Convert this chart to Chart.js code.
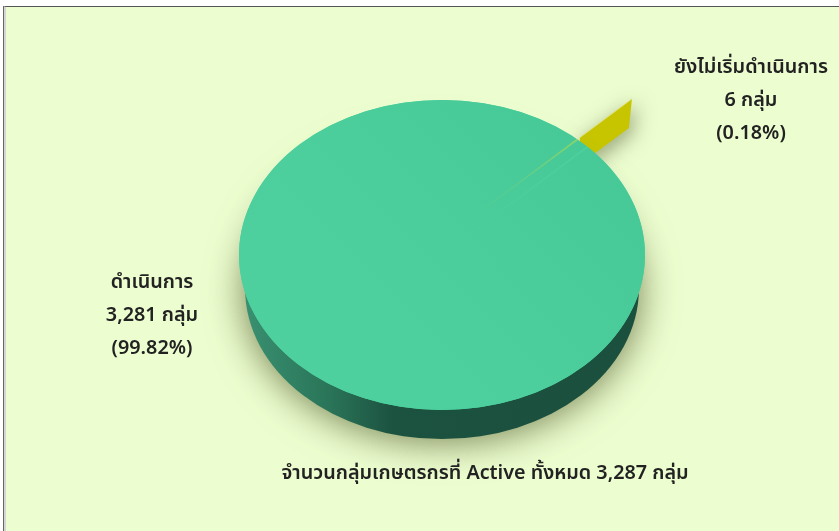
<!DOCTYPE html>
<html lang="th">
<head>
    <meta charset="UTF-8">
    <title>จำนวนกลุ่มเกษตรกร</title>
    <script src="https://cdn.jsdelivr.net/npm/chart.js"></script>
    <style>
        html, body { margin: 0; padding: 0; background: #fff; overflow: hidden; }
        #frame { position: absolute; left: 3px; top: 6px; width: 836px; height: 525px; box-sizing: border-box;
                 background: #ecfdcf; border-top: 1px solid #555; border-left: 3px solid #d5d5d5; }
        #edge { position: absolute; left: 3px; top: 6px; width: 1px; height: 525px; background: #666; }
        canvas { position: absolute; left: 0; top: 0; }
    </style>
</head>
<body>
    <div id="frame"></div>
    <div id="edge"></div>
    <canvas id="pie3d" width="839" height="531"></canvas>

    <script>
        const sliceNames = ['ดำเนินการ', 'ยังไม่เริ่มดำเนินการ'];
        const sliceValues = [3281, 6];
        const slicePercents = ['99.82', '0.18'];
        const totalCaption = 'จำนวนกลุ่มเกษตรกรที่ Active ทั้งหมด 3,287 กลุ่ม';

        // look of the fake 3D
        const squash = 0.764;
        const depth = 29;
        const bottomScale = 0.97;
        const apexShift = -15;
        const pullOut = 1.305;
        const rimAt = 0.948;
        const smallSliceAngle = 45.8;
        const labelSpots = [{ x: 152, y: 284 }, { x: 751, y: 69 }];
        const lineGap = 33;
        const font = '600 19.8px "Noto Sans Thai", "Noto Sans", "Liberation Sans", sans-serif';

        const ctx = document.getElementById('pie3d').getContext('2d');

        function sliceColor(c) {
            const area = c.chart.chartArea;
            if (!area) return '#4ace9b';
            const cx = (area.left + area.right) / 2;
            const cy = (area.top + area.bottom) / 2;
            if (c.dataIndex === 0) {
                const g = ctx.createLinearGradient(cx - 203, cy + 203, cx + 203, cy - 100);
                g.addColorStop(0, '#4ed19f');
                g.addColorStop(0.5, '#4ccf9d');
                g.addColorStop(1, '#46c997');
                return g;
            }
            const g = ctx.createRadialGradient(cx, cy, 10, cx, cy, 195);
            g.addColorStop(0, 'rgba(90,205,140,0.05)');
            g.addColorStop(1, 'rgba(190,220,70,0.6)');
            return g;
        }

        const pie3d = {
            id: 'pie3d',
            beforeDatasetDraw(chart) {
                const c = chart.ctx;
                const [green, yellow] = chart.getDatasetMeta(0).data;
                const x = green.x, y = green.y, R = green.outerRadius;
                const mid = (yellow.startAngle + yellow.endAngle) / 2;
                const dirX = Math.cos(mid), dirY = Math.sin(mid) * squash;
                const ax = x, ay = y + apexShift;
                const p0 = [ax + dirX * R * rimAt, ay + dirY * R * rimAt];
                const p1 = [ax + dirX * R * pullOut, ay + dirY * R * pullOut];

                // yellow slice wall, sticks out behind the top
                c.save();
                c.shadowColor = 'rgba(60,70,30,0.5)';
                c.shadowBlur = 20;
                c.shadowOffsetX = 3;
                c.shadowOffsetY = 5;
                c.fillStyle = '#c6c500';
                c.beginPath();
                c.moveTo(p0[0], p0[1]);
                c.lineTo(p1[0], p1[1]);
                c.lineTo(p1[0] - 3, p1[1] + depth);
                c.lineTo(p0[0] - 3, p0[1] + depth);
                c.closePath();
                c.fill();
                c.restore();
                c.strokeStyle = '#dfe07a';
                c.beginPath();
                c.moveTo(p0[0], p0[1]);
                c.lineTo(p1[0], p1[1]);
                c.stroke();

                // side wall of the green slice
                const Rb = R * bottomScale;
                const ryb = Rb * squash;
                const yb = y + R * squash + depth - ryb;
                const wall = c.createLinearGradient(x - R, 0, x + R, 0);
                wall.addColorStop(0, '#3a9272');
                wall.addColorStop(0.22, '#2a7559');
                wall.addColorStop(0.38, '#1c5240');
                wall.addColorStop(1, '#1b4f3e');
                c.save();
                c.shadowColor = 'rgba(70,80,30,0.75)';
                c.shadowBlur = 38;
                c.shadowOffsetY = 2;
                c.fillStyle = wall;
                c.beginPath();
                c.ellipse(x, yb, Rb, ryb, 0, 0, Math.PI * 2);
                c.fill();
                c.restore();
                c.fillStyle = wall;
                c.beginPath();
                c.moveTo(x - R, y);
                c.lineTo(x + R, y);
                c.lineTo(x + Rb, yb);
                c.lineTo(x - Rb, yb);
                c.closePath();
                c.fill();

                // top face, the library's own arcs squashed into an ellipse
                c.save();
                c.translate(x, y);
                c.scale(1, squash);
                c.translate(-x, -y);
                c.fillStyle = '#4ccf9d';
                c.beginPath();
                c.arc(x, y, R, 0, Math.PI * 2);
                c.fill();
                green.draw(c);
                c.restore();

                c.save();
                c.translate(ax, ay);
                c.scale(1, squash);
                c.translate(-x, -y);
                c.beginPath();
                c.arc(x, y - apexShift / squash, R, 0, Math.PI * 2);
                c.clip();
                yellow.draw(c);
                c.restore();
                return false;
            },
            afterDraw(chart) {
                const c = chart.ctx;
                c.save();
                c.font = font;
                c.fillStyle = '#222';
                c.textAlign = 'center';
                c.textBaseline = 'middle';
                sliceNames.forEach((name, i) => {
                    const spot = labelSpots[i];
                    c.fillText(name, spot.x, spot.y);
                    c.fillText(sliceValues[i].toLocaleString('en-US') + ' กลุ่ม', spot.x, spot.y + lineGap);
                    c.fillText('(' + slicePercents[i] + '%)', spot.x, spot.y + lineGap * 2);
                });
                c.fillText(totalCaption, 485, 475);
                c.restore();
            }
        };

        const smallHalf = 180 * sliceValues[1] / (sliceValues[0] + sliceValues[1]);

        new Chart(ctx, {
            type: 'pie',
            data: {
                labels: sliceNames,
                datasets: [{
                    data: sliceValues,
                    backgroundColor: sliceColor,
                    borderWidth: 0,
                    radius: 203
                }]
            },
            options: {
                responsive: false,
                animation: false,
                rotation: smallSliceAngle + smallHalf,
                layout: { padding: { left: 45, top: 0, right: 0, bottom: 21 } },
                plugins: { legend: { display: false }, tooltip: { enabled: false } }
            },
            plugins: [pie3d]
        });
    </script>
</body>
</html>
